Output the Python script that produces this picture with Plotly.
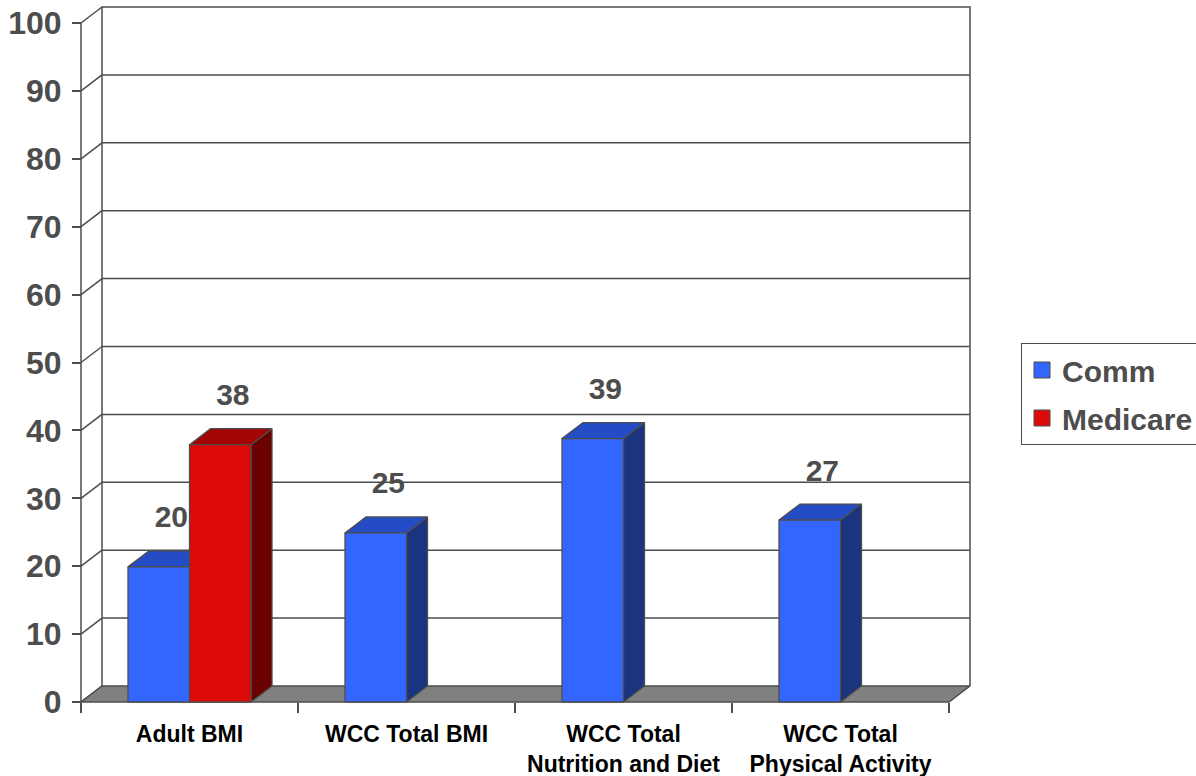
import plotly.graph_objects as go

# ---- data ----
categories = ["Adult BMI", "WCC Total BMI", "WCC Total<br>Nutrition and Diet", "WCC Total<br>Physical Activity"]
series_names = ["Comm", "Medicare"]
comm = [19.9, 24.9, 38.8, 26.8]
medicare = [37.9, None, None, None]
y_ticks = [0, 10, 20, 30, 40, 50, 60, 70, 80, 90, 100]

# ---- style / geometry ----
front_colors = ["#3366FF", "#DD0A0A"]
top_colors = ["#244CC4", "#A30505"]
side_colors = ["#1B347F", "#6A0000"]
edge = "#4D4D4D"
txt = "#4D4D4D"

PXX = 217.0     # px per category
PXY = 6.79      # px per y unit
DDX = 21 / PXX  # depth offset (x units)
DDY = 16 / PXY  # depth offset (y units)
BW = 0.2834
GAP = (1 - 2 * BW) / 2
YMAX = 100
PAD = 3

n = len(categories)
xr = [-PAD / PXX, n + DDX + PAD / PXX]
yr = [-PAD / PXY, YMAX + DDY + PAD / PXY]
plot_w = (xr[1] - xr[0]) * PXX
plot_h = (yr[1] - yr[0]) * PXY
ML = 81 - PAD
MT = 7 - PAD
W, H = 1196, 776
MR = W - ML - plot_w
MB = H - MT - plot_h

fig = go.Figure()

# back wall, gridlines, side diagonals
lx, ly = [], []
lx += [DDX, DDX, n + DDX, n + DDX, None]
ly += [DDY, YMAX + DDY, YMAX + DDY, DDY, None]
for t in y_ticks:
    if 0 < t < YMAX:
        lx += [DDX, n + DDX, None]
        ly += [t + DDY, t + DDY, None]
    lx += [0, DDX, None]
    ly += [t, t + DDY, None]
fig.add_trace(go.Scatter(x=lx, y=ly, mode="lines", line=dict(color=edge, width=1.5),
                         showlegend=False, hoverinfo="skip"))

# floor
fig.add_trace(go.Scatter(x=[0, n, n + DDX, DDX, 0], y=[0, 0, DDY, DDY, 0], mode="lines",
                         fill="toself", fillcolor="#808080", line=dict(color=edge, width=1.5),
                         showlegend=False, hoverinfo="skip"))

# front y axis line
fig.add_trace(go.Scatter(x=[0, 0], y=[0, YMAX], mode="lines", line=dict(color=edge, width=1.5),
                         showlegend=False, hoverinfo="skip"))

series = [comm, medicare]
lab_x, lab_y, lab_t = [], [], []
for i in range(n):
    for s, vals in enumerate(series):
        v = vals[i]
        if v is None:
            continue
        x0 = i + GAP + s * BW
        x1 = x0 + BW
        faces = [
            ([x1, x1 + DDX, x1 + DDX, x1, x1], [0, DDY, v + DDY, v, 0], side_colors[s]),
            ([x0, x1, x1 + DDX, x0 + DDX, x0], [v, v, v + DDY, v + DDY, v], top_colors[s]),
            ([x0, x1, x1, x0, x0], [0, 0, v, v, 0], front_colors[s]),
        ]
        for fx, fy, c in faces:
            fig.add_trace(go.Scatter(x=fx, y=fy, mode="lines", fill="toself", fillcolor=c,
                                     line=dict(color=edge, width=1.3), showlegend=False,
                                     hoverinfo="skip"))
        lab_x.append((x0 + x1) / 2 + 0.6 * DDX)
        lab_y.append(v + DDY + 31 / PXY)
        lab_t.append(f"{v:.0f}")

fig.add_trace(go.Scatter(x=lab_x, y=lab_y, text=lab_t, mode="text", textposition="middle center",
                         textfont=dict(family="Liberation Sans", size=30, color=txt, weight="bold"),
                         cliponaxis=False, showlegend=False, hoverinfo="skip"))

# legend entries
for s, name in enumerate(series_names):
    fig.add_trace(go.Scatter(x=[None], y=[None], mode="markers", name=name, legendgroup=name,
                             marker=dict(symbol="square", size=18, color=front_colors[s],
                                         line=dict(color=edge, width=1))))

fig.update_layout(
    width=W, height=H,
    margin=dict(l=ML, r=MR, t=MT, b=MB, autoexpand=False),
    paper_bgcolor="white", plot_bgcolor="white",
    font=dict(family="Liberation Sans", color=txt),
    xaxis=dict(range=xr, anchor="free", position=PAD / plot_h,
               tickmode="array", tickvals=[i + 0.5 for i in range(n)], ticktext=categories,
               ticks="outside", ticklen=10, tickcolor="rgba(0,0,0,0)",
               tickfont=dict(family="Liberation Sans", size=23, color="black", weight="bold"),
               ticklabelstandoff=1,
               minor=dict(tick0=0, dtick=1, ticks="outside", ticklen=10, tickcolor=edge, tickwidth=1.5),
               showgrid=False, zeroline=False, showline=False, fixedrange=True),
    yaxis=dict(range=yr, anchor="free", position=PAD / plot_w,
               tickmode="array", tickvals=y_ticks,
               ticks="outside", ticklen=9, tickcolor=edge, tickwidth=1.5,
               tickfont=dict(family="Liberation Sans", size=32, color=txt, weight="bold"),
               ticklabelstandoff=4,
               showgrid=False, zeroline=False, showline=False, fixedrange=True),
    legend=dict(x=(1021 - ML) / plot_w, y=(MT + plot_h - 343) / plot_h, xanchor="left", yanchor="top",
                bordercolor=edge, borderwidth=1, bgcolor="white", tracegroupgap=6,
                font=dict(family="Liberation Sans", size=30, color=txt, weight="bold")),
    showlegend=True,
)

fig.write_html("out.html", config={"displayModeBar": False},
               post_script="document.body.style.margin='0px';")
